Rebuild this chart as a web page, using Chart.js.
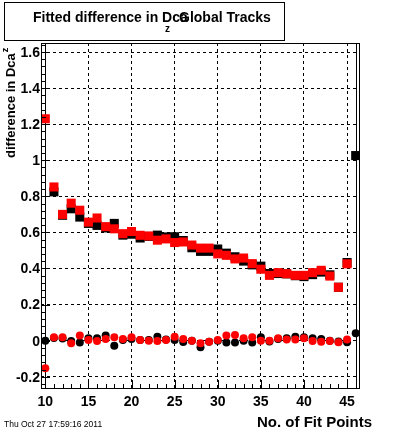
<!DOCTYPE html>
<html>
<head>
<meta charset="utf-8">
<script src="https://cdn.jsdelivr.net/npm/chart.js@4/dist/chart.umd.min.js"></script>
<style>
  body { margin: 0; background: #fff; }
  canvas { display: block; }
</style>
</head>
<body>
<canvas id="graficoDca" width="400" height="433"></canvas>
<script>
// Datos (No. of Fit Points de 10 a 46)
const puntosFit = [10, 11, 12, 13, 14, 15, 16, 17, 18, 19, 20, 21, 22, 23, 24, 25, 26, 27, 28,
  29, 30, 31, 32, 33, 34, 35, 36, 37, 38, 39, 40, 41, 42, 43, 44, 45, 46];

// cuadrados negros y rojos (parte superior)
const cuadradosNegros = [null, 0.825, 0.695, 0.731, 0.685, 0.65, 0.639, 0.625, 0.65, 0.585, 0.59,
  0.569, 0.578, 0.585, 0.575, 0.576, 0.555, 0.515, 0.495, 0.495, 0.508, 0.485, 0.465, 0.441,
  0.42, 0.413, 0.372, 0.372, 0.37, 0.36, 0.355, 0.366, 0.38, 0.365, 0.296, 0.433, 1.026];
const cuadradosRojos = [1.23, 0.852, 0.70, 0.762, 0.723, 0.657, 0.68, 0.632, 0.62, 0.593, 0.605,
  0.584, 0.58, 0.557, 0.564, 0.544, 0.547, 0.53, 0.513, 0.513, 0.481, 0.473, 0.453, 0.458,
  0.427, 0.396, 0.362, 0.377, 0.371, 0.362, 0.362, 0.377, 0.39, 0.358, 0.296, 0.426, null];

// circulos negros y rojos (cerca de cero)
const circulosNegros = [0.0, 0.015, 0.012, -0.002, -0.01, 0.013, 0.013, 0.028, -0.028, 0.004, 0.009,
  0.004, 0.004, 0.022, 0.007, 0.004, -0.007, 0.0, -0.037, -0.006, 0.0, -0.01, -0.01, 0.0,
  -0.01, 0.019, -0.005, 0.009, 0.013, 0.022, 0.019, 0.013, 0.009, 0.0, -0.005, -0.009, 0.041];
const circulosRojos = [-0.153, 0.019, 0.019, -0.015, 0.028, 0.004, -0.002, 0.009, 0.019, 0.009, 0.019,
  0.004, 0.0, -0.002, 0.004, 0.022, 0.009, 0.0, -0.015, -0.006, 0.004, 0.028, 0.031, 0.013,
  0.019, 0.0, 0.0, 0.013, 0.007, 0.007, 0.013, -0.002, -0.006, -0.002, -0.009, 0.007, null];

// barras verticales (errores enormes en los extremos)
const barrasX = [10, 46];

// marcas de los ejes
const ticksX = [10, 15, 20, 25, 30, 35, 40, 45];
const ticksY = [-0.2, 0, 0.2, 0.4, 0.6, 0.8, 1, 1.2, 1.4, 1.6];
const etiquetasY = ['-0.2', '0', '0.2', '0.4', '0.6', '0.8', '1', '1.2', '1.4', '1.6'];

const fuente = '"Liberation Sans", Arial, sans-serif';

function armar(valores) {
  const pts = [];
  valores.forEach(function(v, i) {
    if (v !== null) pts.push({x: puntosFit[i], y: v});
  });
  return pts;
}

function linea(ctx, x1, y1, x2, y2) {
  ctx.beginPath();
  ctx.moveTo(x1, y1);
  ctx.lineTo(x2, y2);
  ctx.stroke();
}

// Plugin para el marco, las marcas internas, textos y caja del titulo (estilo ROOT)
const pluginRoot = {
  id: 'pluginRoot',
  beforeDatasetsDraw(chart) {
    const {ctx, chartArea: a, scales: {x}} = chart;
    ctx.save();
    ctx.strokeStyle = '#000';
    ctx.lineWidth = 1;
    barrasX.forEach(function(v) {
      const px = Math.round(x.getPixelForValue(v)) + 0.5;
      linea(ctx, px, a.top, px, a.bottom);
    });
    ctx.restore();
  },
  afterDatasetsDraw(chart) {
    const {ctx, chartArea: a, scales: {x, y}} = chart;
    ctx.save();
    ctx.strokeStyle = '#000';
    ctx.fillStyle = '#000';
    ctx.lineWidth = 1;

    // marco
    ctx.strokeRect(a.left + 0.5, a.top + 0.5, a.right - a.left - 1, a.bottom - a.top - 1);

    // marcas eje x (principal cada 5, secundaria cada 1)
    for (let v = 10; v <= 46; v++) {
      const px = Math.round(x.getPixelForValue(v)) + 0.5;
      const largo = (v % 5 === 0) ? 9 : 5;
      linea(ctx, px, a.bottom, px, a.bottom - largo);
    }
    // marcas eje y (principal cada 0.2, secundaria cada 0.04)
    for (let k = -6; k <= 41; k++) {
      const v = k * 0.04;
      if (v < y.min || v > y.max) continue;
      const py = Math.round(y.getPixelForValue(v)) + 0.5;
      const largo = (k % 5 === 0) ? 9 : 5;
      linea(ctx, a.left, py, a.left + largo, py);
    }

    // etiquetas de los ejes
    ctx.font = 'bold 14px ' + fuente;
    ctx.textAlign = 'center';
    ctx.textBaseline = 'alphabetic';
    ticksX.forEach(function(v) {
      ctx.fillText(String(v), x.getPixelForValue(v), a.bottom + 17);
    });
    ctx.textAlign = 'right';
    ctx.textBaseline = 'middle';
    ticksY.forEach(function(v, i) {
      ctx.fillText(etiquetasY[i], a.left - 1, y.getPixelForValue(v) + 1);
    });

    // titulo eje x
    ctx.font = 'bold 15px ' + fuente;
    ctx.textAlign = 'right';
    ctx.textBaseline = 'alphabetic';
    ctx.fillText('No. of Fit Points', 372, 427);

    // titulo eje y (rotado)
    ctx.save();
    ctx.translate(15, 158);
    ctx.rotate(-Math.PI / 2);
    ctx.font = 'bold 13px ' + fuente;
    ctx.textAlign = 'left';
    ctx.fillText('difference in Dca', 0, 0);
    const anchoY = ctx.measureText('difference in Dca').width;
    ctx.font = 'bold 9px ' + fuente;
    ctx.fillText('z', anchoY + 1, -7);
    ctx.restore();

    // fecha
    ctx.font = '8.5px ' + fuente;
    ctx.textAlign = 'left';
    ctx.fillText('Thu Oct 27 17:59:16 2011', 4, 427);

    // caja del titulo
    ctx.fillStyle = '#fff';
    ctx.fillRect(4.5, 2.5, 280, 38);
    ctx.strokeRect(4.5, 2.5, 280, 38);
    ctx.fillStyle = '#000';
    ctx.font = 'bold 14px ' + fuente;
    ctx.textAlign = 'left';
    ctx.fillText('Fitted difference in Dca', 33, 22);
    ctx.fillText('Global Tracks', 179, 22);
    ctx.font = 'bold 10px ' + fuente;
    ctx.fillText('z', 165, 32);

    ctx.restore();
  }
};

var ctx = document.getElementById('graficoDca').getContext('2d');
var graficoDca = new Chart(ctx, {
  type: 'scatter',
  data: {
    datasets: [
      // los primeros se dibujan encima
      { data: armar(circulosRojos), pointStyle: 'circle', pointRadius: 4, backgroundColor: '#ff0000', borderWidth: 0 },
      { data: armar(cuadradosRojos), pointStyle: 'rect', pointRadius: 6.4, backgroundColor: '#ff0000', borderWidth: 0 },
      { data: armar(circulosNegros), pointStyle: 'circle', pointRadius: 4, backgroundColor: '#000000', borderWidth: 0 },
      { data: armar(cuadradosNegros), pointStyle: 'rect', pointRadius: 6.4, backgroundColor: '#000000', borderWidth: 0 }
    ]
  },
  options: {
    responsive: false,
    animation: false,
    events: [],
    layout: { padding: { left: 41, top: 43, right: 40, bottom: 44 } },
    plugins: { legend: { display: false }, tooltip: { enabled: false }, title: { display: false } },
    scales: {
      x: {
        type: 'linear',
        min: 9.5,
        max: 46.5,
        afterBuildTicks: function(axis) { axis.ticks = ticksX.map(function(v) { return {value: v}; }); },
        ticks: { display: false },
        grid: { color: '#000', lineWidth: 1, drawTicks: false },
        border: { display: false, dash: [3, 3] }
      },
      y: {
        type: 'linear',
        min: -0.268,
        max: 1.65,
        afterBuildTicks: function(axis) { axis.ticks = ticksY.map(function(v) { return {value: v}; }); },
        ticks: { display: false },
        grid: { color: '#000', lineWidth: 1, drawTicks: false },
        border: { display: false, dash: [3, 3] }
      }
    }
  },
  plugins: [pluginRoot]
});
</script>
</body>
</html>
